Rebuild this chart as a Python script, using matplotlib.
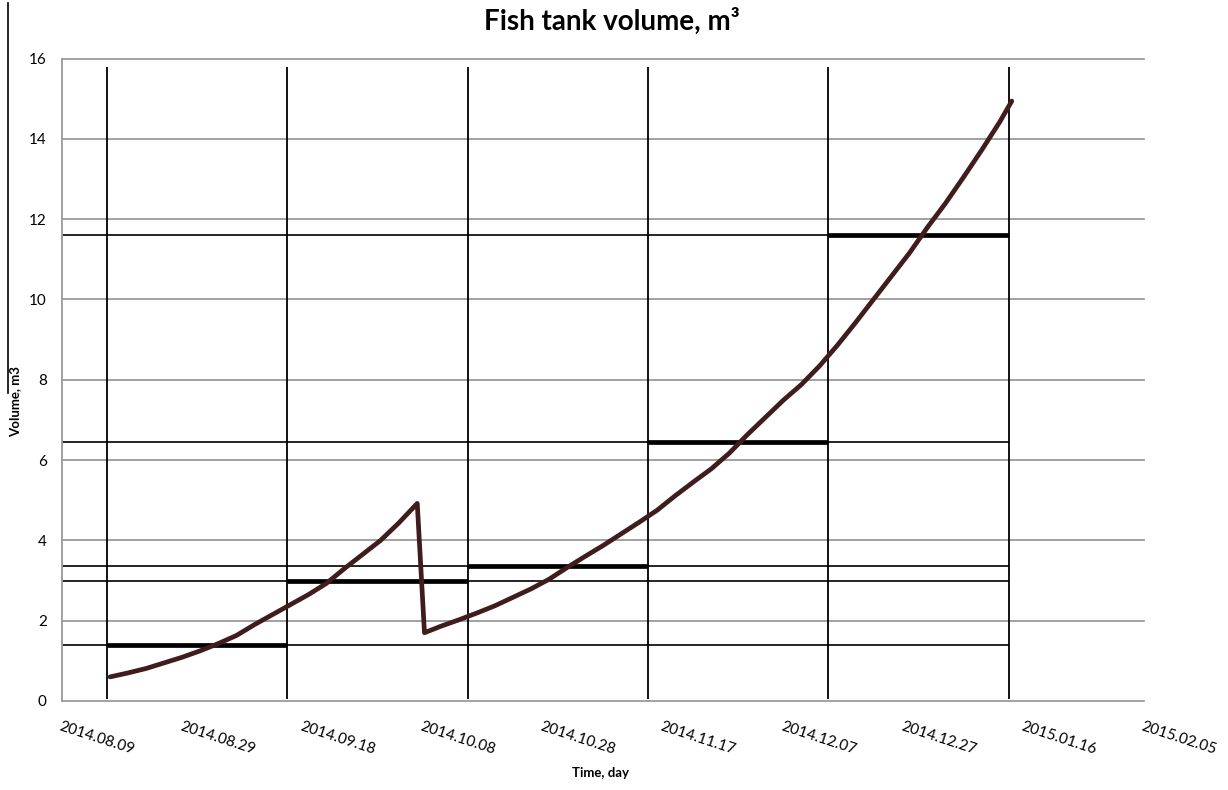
import matplotlib
matplotlib.use("Agg")
import matplotlib.pyplot as plt
from matplotlib.lines import Line2D

plt.rcParams['font.family'] = ['Lato', 'DejaVu Sans']

# x axis: days counted from 2014.08.09
tick_days = [0, 20, 40, 60, 80, 100, 120, 140, 160, 180]
tick_labels = ["2014.08.09", "2014.08.29", "2014.09.18", "2014.10.08", "2014.10.28",
               "2014.11.17", "2014.12.07", "2014.12.27", "2015.01.16", "2015.02.05"]
y_ticks = [0, 2, 4, 6, 8, 10, 12, 14, 16]

# volume before the first transfer
days_a = [8, 11, 14, 17, 20, 23, 26, 29, 32, 35, 38, 41, 44, 47, 50, 53, 56, 59.1]
vol_a = [0.60, 0.70, 0.81, 0.95, 1.09, 1.25, 1.43, 1.63, 1.90, 2.15, 2.40, 2.65,
         2.93, 3.30, 3.65, 4.00, 4.43, 4.92]

# volume after the transfer
days_b = [60.3, 63, 66, 69, 72, 75, 78, 81, 84, 87, 90, 93, 96, 99, 102, 105, 108,
          111, 114, 117, 120, 123, 126, 129, 132, 135, 138, 141, 144, 147, 150, 153,
          156, 158]
vol_b = [1.70, 1.86, 2.02, 2.19, 2.37, 2.58, 2.79, 3.03, 3.32, 3.60, 3.87, 4.16,
         4.45, 4.75, 5.11, 5.45, 5.78, 6.17, 6.63, 7.06, 7.49, 7.88, 8.34, 8.86,
         9.42, 10.00, 10.58, 11.16, 11.80, 12.40, 13.05, 13.72, 14.42, 14.94]

# 30-day periods and the tank volume set for each
period_edges = [7.5, 37.5, 67.5, 97.5, 127.5, 157.5]
period_levels = [1.4, 3.0, 3.35, 6.45, 11.6]

W, H = 1228, 790
fig = plt.figure(figsize=(W / 100, H / 100), dpi=100)
ax = fig.add_axes([62 / W, 89 / H, 1082 / W, 642.5 / H])

ax.set_xlim(0, 180)
ax.set_ylim(0, 16)

for s in ['top', 'right', 'bottom']:
    ax.spines[s].set_visible(False)
ax.spines['left'].set_color('#9a9a9a')
ax.spines['left'].set_linewidth(1.3)

for yv in y_ticks:
    ax.axhline(yv, color='#9a9a9a', lw=1.3, zorder=1, clip_on=False)

# period boundaries
ax.vlines(period_edges, 0.05, 15.8, color='black', lw=1.3, zorder=2)

# level lines across the chart and bold level within each period
for i, lvl in enumerate(period_levels):
    ax.hlines(lvl, 0, period_edges[-1], color='black', lw=1.2, zorder=2)
    ax.hlines(lvl, period_edges[i], period_edges[i + 1], color='black', lw=3.4, zorder=3)

curve_color = '#401c1c'
ax.plot(days_a + days_b, vol_a + vol_b, color=curve_color, lw=3.4,
        solid_capstyle='round', solid_joinstyle='round', zorder=4)

ax.set_xticks(tick_days)
ax.set_xticklabels(tick_labels, rotation=-18, ha='left', va='top',
                   rotation_mode='anchor', fontsize=11)
ax.set_yticks(y_ticks)
ax.set_yticklabels([str(v) for v in y_ticks], fontsize=11)
ax.tick_params(axis='x', length=0, pad=13)
ax.tick_params(axis='y', length=0, pad=11)

fig.text(612 / W, 1 - 21 / H, "Fish tank volume, m³", ha='center', va='center',
         fontsize=20, fontweight='bold')
fig.text(600 / W, 1 - 773 / H, "Time, day", ha='center', va='center',
         fontsize=9.5, fontweight='bold')
fig.text(15 / W, 1 - 402 / H, "Volume, m3", ha='center', va='center',
         rotation=90, fontsize=9.5, fontweight='bold')

fig.add_artist(Line2D([8 / W, 8 / W], [1 - 3 / H, 1 - 393 / H], color='black', lw=1.2))

fig.savefig("out.png", dpi=100)
